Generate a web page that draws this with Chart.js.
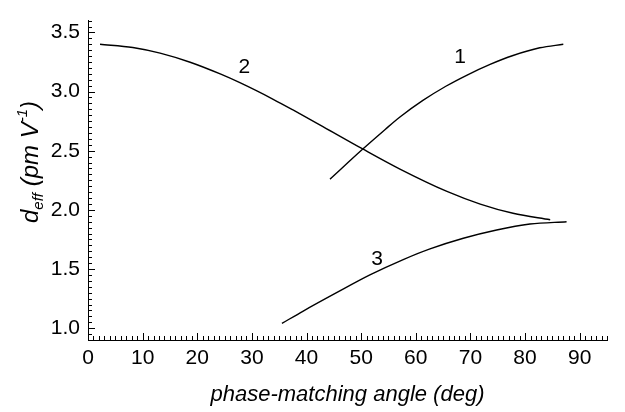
<!DOCTYPE html>
<html>
<head>
<meta charset="utf-8">
<script src="https://cdn.jsdelivr.net/npm/chart.js@4.4.1/dist/chart.umd.min.js"></script>
<style>
  html, body { margin: 0; padding: 0; background: #fff; }
  #wrap { width: 625px; height: 412px; }
</style>
</head>
<body>
<div id="wrap"><canvas id="deffChart" width="625" height="412"></canvas></div>
<script>
// values
const curve1Angle = [44.3, 50.2, 54.4, 57.1, 61.3, 65.5, 69.4, 73.6, 77.8, 82.7, 87.0];
const curve1Deff  = [2.26, 2.51, 2.68, 2.785, 2.925, 3.045, 3.14, 3.23, 3.305, 3.37, 3.40];

const curve2Angle = [2.2, 8.2, 13.2, 18.7, 24.2, 27.8, 33.9, 37.6, 43.0, 50.2, 57.1, 65.7, 71.8, 77.8, 84.6];
const curve2Deff  = [3.40, 3.373, 3.325, 3.248, 3.149, 3.075, 2.935, 2.843, 2.704, 2.517, 2.345, 2.156, 2.049, 1.971, 1.917];

const curve3Angle = [35.5, 39.4, 45.5, 51.6, 57.7, 62.6, 68.7, 74.8, 80.9, 87.6];
const curve3Deff  = [1.04, 1.145, 1.30, 1.45, 1.58, 1.67, 1.76, 1.83, 1.88, 1.90];

const xTicks = [0, 10, 20, 30, 40, 50, 60, 70, 80, 90];
const yTicks = [1.0, 1.5, 2.0, 2.5, 3.0, 3.5];

const curveNames = ['1', '2', '3'];

const toPoints = (xs, ys) => xs.map((x, i) => ({ x: x, y: ys[i] }));

// where the curve numbers sit, in data units
const nameAt = [
    { x: 68.1, y: 3.29 },
    { x: 28.6, y: 3.21 },
    { x: 52.9, y: 1.58 },
];

const FONT = 'Liberation Sans, Arial, Helvetica, sans-serif';

const lineStyle = {
    borderColor: '#000',
    borderWidth: 1.4,
    pointRadius: 0,
    showLine: true,
    fill: false,
    cubicInterpolationMode: 'monotone',
};

// inward major/minor tick marks, curve numbers and the y title
const extras = {
    id: 'extras',
    afterDraw(chart) {
        const { ctx, scales: { x, y } } = chart;
        ctx.save();
        ctx.strokeStyle = '#000';
        ctx.lineWidth = 1;
        ctx.beginPath();
        for (let v = 0; v <= 95; v++) {
            const px = Math.round(x.getPixelForValue(v)) + 0.5;
            const len = v % 10 === 0 ? 7 : 4;
            ctx.moveTo(px, y.bottom);
            ctx.lineTo(px, y.bottom - len);
        }
        for (let i = 18; i <= 72; i++) {
            const py = Math.round(y.getPixelForValue(i * 0.05)) + 0.5;
            const len = i % 10 === 0 ? 7 : 4;
            ctx.moveTo(x.left, py);
            ctx.lineTo(x.left + len, py);
        }
        ctx.stroke();

        // curve numbers
        ctx.fillStyle = '#000';
        ctx.font = '21px ' + FONT;
        ctx.textAlign = 'center';
        ctx.textBaseline = 'middle';
        curveNames.forEach((name, i) => {
            ctx.fillText(name, x.getPixelForValue(nameAt[i].x), y.getPixelForValue(nameAt[i].y));
        });

        // y title: d_eff (pm V^-1)
        const big = 'italic 24px ' + FONT;
        const small = 'italic 15px ' + FONT;
        const parts = [
            { t: 'd', f: big, dy: 0 },
            { t: 'eff', f: small, dy: 5 },
            { t: ' (pm V', f: big, dy: 0 },
            { t: '-1', f: small, dy: -11 },
            { t: ')', f: big, dy: 0 },
        ];
        let total = 0;
        parts.forEach(p => { ctx.font = p.f; p.w = ctx.measureText(p.t).width; total += p.w; });
        ctx.translate(30, 162);
        ctx.rotate(-Math.PI / 2);
        ctx.textAlign = 'left';
        ctx.textBaseline = 'alphabetic';
        let cx = -total / 2;
        parts.forEach(p => {
            ctx.font = p.f;
            ctx.fillText(p.t, cx, 8 + p.dy);
            cx += p.w;
        });
        ctx.restore();
    }
};

const ctx = document.getElementById('deffChart');

new Chart(ctx, {
    type: 'scatter',
    data: {
        datasets: [
            { label: curveNames[0], data: toPoints(curve1Angle, curve1Deff), ...lineStyle },
            { label: curveNames[1], data: toPoints(curve2Angle, curve2Deff), ...lineStyle },
            { label: curveNames[2], data: toPoints(curve3Angle, curve3Deff), ...lineStyle },
        ],
    },
    options: {
        responsive: false,
        animation: false,
        devicePixelRatio: 1,
        layout: { padding: { top: 5, right: 18, left: 0, bottom: 0 } },
        plugins: {
            legend: { display: false },
            tooltip: { enabled: false },
        },
        scales: {
            x: {
                type: 'linear',
                min: 0,
                max: 95,
                afterBuildTicks: scale => { scale.ticks = xTicks.map(v => ({ value: v })); },
                afterFit: scale => { scale.height = 72; },
                grid: { display: false, drawTicks: false },
                border: { display: true, color: '#000', width: 1 },
                ticks: {
                    color: '#000',
                    padding: 6,
                    maxRotation: 0,
                    font: { family: FONT, size: 21 },
                },
                title: {
                    display: true,
                    text: 'phase-matching angle (deg)',
                    color: '#000',
                    font: { family: FONT, size: 22, style: 'italic' },
                    padding: { top: 0, bottom: 4 },
                },
            },
            y: {
                type: 'linear',
                min: 0.9,
                max: 3.6,
                afterBuildTicks: scale => { scale.ticks = yTicks.map(v => ({ value: v })); },
                afterFit: scale => { scale.width = 88; },
                grid: { display: false, drawTicks: false },
                border: { display: true, color: '#000', width: 1 },
                ticks: {
                    color: '#000',
                    padding: 8,
                    font: { family: FONT, size: 21 },
                    callback: v => v.toFixed(1),
                },
            },
        },
    },
    plugins: [extras],
});
</script>
</body>
</html>
